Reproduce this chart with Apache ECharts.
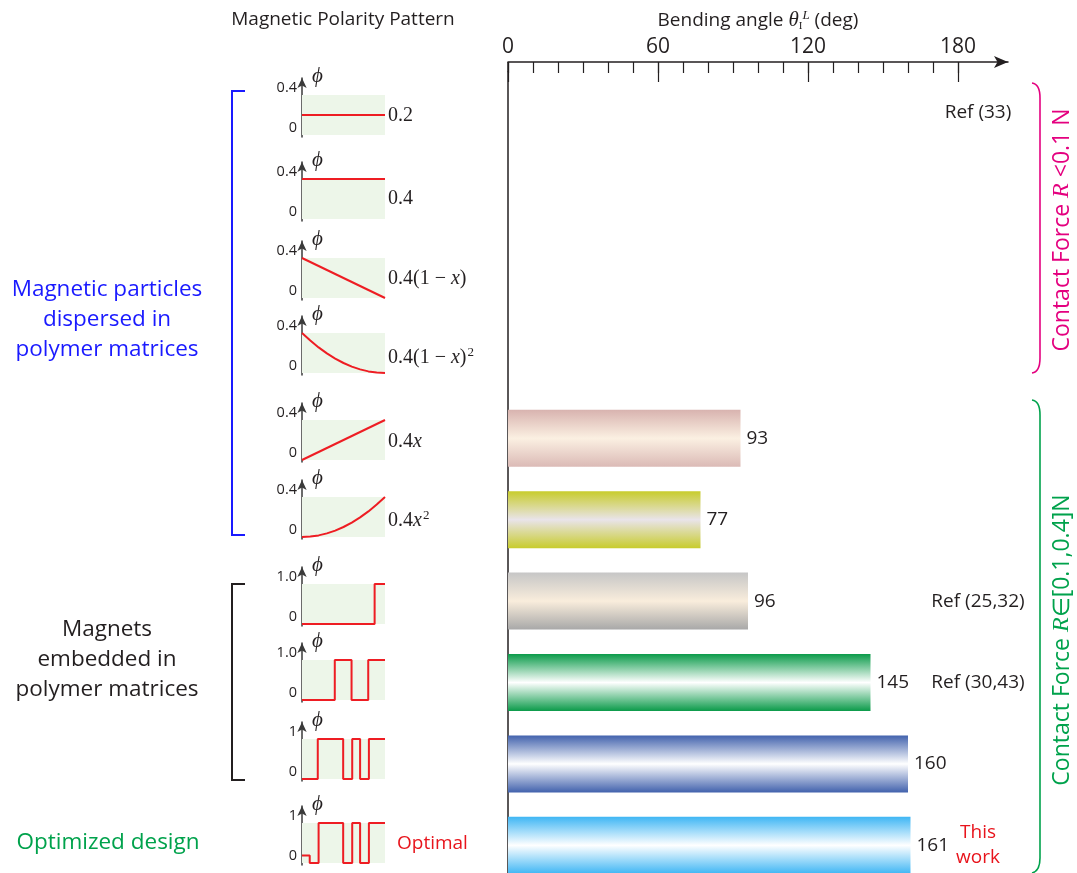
<!DOCTYPE html>
<html><head><meta charset="utf-8">
<script src="https://cdn.jsdelivr.net/npm/echarts@6/dist/echarts.min.js"></script>
<style>html,body{margin:0;padding:0;background:#fff}#c{width:1077px;height:873px}</style>
</head><body><div id="c"></div><script>
// ---------------- data ----------------
const categories = ['0.2', '0.4', '0.4(1-x)', '0.4(1-x)^2', '0.4x', '0.4x^2', 'Magnet A', 'Magnet B', 'Magnet C', 'Optimal'];
const bendingAngle = ['-', '-', '-', '-', 93, 77, 96, 145, 160, 161];
const refNotes = ['Ref (33)', '', '', '', '', '', 'Ref (25,32)', 'Ref (30,43)', '', 'This\nwork'];
const xTickLabels = [0, 60, 120, 180];
const xMinorTicks = [0, 10, 20, 30, 40, 50, 60, 70, 80, 90, 100, 110, 120, 130, 140, 150, 160, 170, 180];
const xAxisMax = 200;

// polarity patterns phi(x), x in [0,1]
const patUniform02 = [[0, 0.2], [1, 0.2]];
const patUniform04 = [[0, 0.4], [1, 0.4]];
const patLinearDown = [[0, 0.4], [1, 0]];
const patQuadDown = [[0, 0.4], [0.1, 0.324], [0.2, 0.256], [0.3, 0.196], [0.4, 0.144], [0.5, 0.1], [0.6, 0.064], [0.7, 0.036], [0.8, 0.016], [0.9, 0.004], [1, 0]];
const patLinearUp = [[0, 0], [1, 0.4]];
const patQuadUp = [[0, 0], [0.1, 0.004], [0.2, 0.016], [0.3, 0.036], [0.4, 0.064], [0.5, 0.1], [0.6, 0.144], [0.7, 0.196], [0.8, 0.256], [0.9, 0.324], [1, 0.4]];
const patMagnet1 = [[0, 0], [0.875, 0], [0.875, 1], [1, 1]];
const patMagnet2 = [[0, 0], [0.395, 0], [0.395, 1], [0.597, 1], [0.597, 0], [0.798, 0], [0.798, 1], [1, 1]];
const patMagnet3 = [[0, 0], [0.19, 0], [0.19, 1], [0.496, 1], [0.496, 0], [0.605, 0], [0.605, 1], [0.70, 1], [0.70, 0], [0.806, 0], [0.806, 1], [1, 1]];
const patOptimal = [[0, 0.19], [0.093, 0.19], [0.093, 0], [0.2, 0], [0.2, 1], [0.496, 1], [0.496, 0], [0.605, 0], [0.605, 1], [0.70, 1], [0.70, 0], [0.806, 0], [0.806, 1], [1, 1]];
const miniPatterns = [patUniform02, patUniform04, patLinearDown, patQuadDown, patLinearUp, patQuadUp, patMagnet1, patMagnet2, patMagnet3, patOptimal];
const miniMax = [0.4, 0.4, 0.4, 0.4, 0.4, 0.4, 1, 1, 1, 1];
const miniTopLabels = ['0.4', '0.4', '0.4', '0.4', '0.4', '0.4', '1.0', '1.0', '1', '1'];
const miniFormulas = ['0.2', '0.4', '0.4(1 − {i|x})', '0.4(1 − {i|x}){s|2}', '0.4{i|x}', '0.4{i|x}{s|2}', '', '', '', ''];

// ---------------- styles / layout ----------------
const SANS = '"Open Sans", "Noto Sans", sans-serif';
const SERIF = '"Liberation Serif", "DejaVu Serif", serif';
const DARK = '#231f20';
const RED = '#e8141c';
const barColors = [null, null, null, null,
  ['#d8b3af', '#fbf0e2', '#dbbab6'],
  ['#c8cc2c', '#e9e4ea', '#c8cc2c'],
  ['#c6c6c6', '#f9eddc', '#a8a8a8'],
  ['#0b9b4a', '#ffffff', '#0b9b4a'],
  ['#4262ad', '#ffffff', '#4262ad'],
  ['#3fb6f4', '#ffffff', '#3fb6f4']];
const G_LEFT = 508, G_TOP = 72, G_W = 500, G_H = 814, AX_OFF = 10;
const miniTops = [78, 162, 241, 316, 403, 480, 567, 643, 722, 806];
const miniFormulaY = [116, 199, 279, 358, 442, 521];
const MINI_LEFT = 302, MINI_W = 83, MINI_H = 59;

function grad(c) {
  return new echarts.graphic.LinearGradient(0, 0, 0, 1, [
    { offset: 0, color: c[0] }, { offset: 0.5, color: c[1] }, { offset: 1, color: c[2] }]);
}

const grids = [{ left: G_LEFT, top: G_TOP, width: G_W, height: G_H, outerBoundsMode: 'none', containLabel: false }];
const xAxes = [
  { gridIndex: 0, type: 'value', position: 'top', offset: AX_OFF, min: 0, max: xAxisMax,
    axisLine: { show: true, lineStyle: { color: DARK, width: 1.5 }, symbol: ['none', 'arrow'], symbolSize: [9, 14] },
    axisTick: { show: true, inside: true, length: 11, customValues: xMinorTicks, lineStyle: { color: DARK, width: 1.2 } },
    axisLabel: { show: false }, splitLine: { show: false } },
  { gridIndex: 0, type: 'value', position: 'top', offset: AX_OFF, min: 0, max: xAxisMax,
    axisLine: { show: false },
    axisTick: { show: true, inside: true, length: 20, customValues: xTickLabels, lineStyle: { color: DARK, width: 1.2 } },
    axisLabel: { show: true, customValues: xTickLabels, color: DARK, fontSize: 21, fontFamily: SANS, margin: 4 },
    splitLine: { show: false },
    name: '{n|Bending angle }{th|θ}{sub|I}{sup|L}{n| (deg)}', nameLocation: 'middle', nameGap: 29,
    nameTextStyle: { color: DARK, fontSize: 19, fontFamily: SANS,
      rich: { n: { fontFamily: SANS, fontSize: 19, color: DARK },
              th: { fontFamily: SERIF, fontStyle: 'italic', fontSize: 21, color: DARK },
              sub: { fontFamily: SERIF, fontSize: 11, color: DARK, verticalAlign: 'bottom', padding: [8, 0, 0, 0] },
              sup: { fontFamily: SERIF, fontStyle: 'italic', fontSize: 13, color: DARK, verticalAlign: 'top', padding: [0, 0, 10, 0] } } } }
];
const yAxes = [
  { gridIndex: 0, type: 'category', inverse: true, data: categories,
    axisLine: { show: true, lineStyle: { color: DARK, width: 1.5 } },
    axisTick: { show: false }, axisLabel: { show: false }, splitLine: { show: false } }
];

const series = [
  { type: 'bar', xAxisIndex: 0, yAxisIndex: 0, barWidth: 57,
    data: bendingAngle.map((v, i) => v === '-' ? '-' : { value: v, itemStyle: { color: grad(barColors[i]) } }),
    label: { show: true, position: 'right', distance: 6, color: DARK, fontSize: 19, fontFamily: SANS } },
  { type: 'scatter', xAxisIndex: 0, yAxisIndex: 0, symbolSize: 0, silent: true, itemStyle: { opacity: 1 },
    data: refNotes.map((t, i) => t ? { value: [188, i], name: t,
      label: t.indexOf('This') === 0 ? { color: RED, lineHeight: 25 } : {} } : null).filter(Boolean),
    label: { show: true, position: 'inside', formatter: p => p.name, color: DARK, fontSize: 19, fontFamily: SANS } }
];

miniPatterns.forEach((pat, k) => {
  const gi = k + 1;          // grid / yAxis index
  const xi = k + 2;          // xAxis index (grid 0 owns two x axes)
  const m = miniMax[k];
  const pxPer = m / 40;      // value per pixel
  grids.push({ left: MINI_LEFT, top: miniTops[k], width: MINI_W, height: MINI_H, outerBoundsMode: 'none', containLabel: false });
  xAxes.push({ gridIndex: gi, type: 'value', min: 0, max: 1, show: false });
  yAxes.push({ gridIndex: gi, type: 'value', min: -2 * pxPer, max: m + 17 * pxPer,
    axisLine: { show: true, lineStyle: { color: '#3a3a3a', width: 1.5 }, symbol: ['none', 'arrow'], symbolSize: [7, 10] },
    axisTick: { show: true, inside: true, length: 6, customValues: [m], lineStyle: { color: '#999', width: 1 } },
    axisLabel: { show: true, customValues: [0, m], formatter: v => v === 0 ? '0' : miniTopLabels[k],
      color: DARK, fontSize: 14.5, fontFamily: SANS, margin: 5, verticalAlign: 'bottom' },
    splitLine: { show: false },
    name: 'ϕ', nameLocation: 'end', nameGap: 2,
    nameTextStyle: { fontFamily: SERIF, fontStyle: 'italic', fontSize: 21, color: DARK, align: 'left', verticalAlign: 'middle', padding: [0, 0, 0, 10] } });
  series.push({ type: 'line', xAxisIndex: xi, yAxisIndex: gi, data: pat, showSymbol: false, silent: true,
    lineStyle: { color: '#ee1d23', width: 2 },
    markArea: { silent: true, itemStyle: { color: '#edf6e9' }, data: [[{ xAxis: 0, yAxis: 0 }, { xAxis: 1, yAxis: m }]] } });
});

const graphic = [
  { type: 'text', x: 343, y: 20, style: { text: 'Magnetic Polarity Pattern', fill: DARK, fontSize: 19, fontFamily: SANS, textAlign: 'center', textVerticalAlign: 'middle' } },
  { type: 'line', shape: { x1: G_LEFT, y1: G_TOP - AX_OFF, x2: G_LEFT, y2: G_TOP }, style: { stroke: DARK, lineWidth: 1.5 } },
  { type: 'polyline', shape: { points: [[245, 91], [232, 91], [232, 535], [245, 535]] }, style: { stroke: '#1a1aff', lineWidth: 2, fill: null } },
  { type: 'polyline', shape: { points: [[245, 584], [232, 584], [232, 780], [245, 780]] }, style: { stroke: DARK, lineWidth: 2, fill: null } },
  { type: 'text', x: 107, y: 320, style: { text: 'Magnetic particles\ndispersed in\npolymer matrices', fill: '#1a1aff', fontSize: 22.5, lineHeight: 30, fontFamily: SANS, textAlign: 'center', textVerticalAlign: 'middle' } },
  { type: 'text', x: 107, y: 660, style: { text: 'Magnets\nembedded in\npolymer matrices', fill: DARK, fontSize: 22.5, lineHeight: 30, fontFamily: SANS, textAlign: 'center', textVerticalAlign: 'middle' } },
  { type: 'text', x: 108, y: 843, style: { text: 'Optimized design', fill: '#00a24c', fontSize: 22.5, fontFamily: SANS, textAlign: 'center', textVerticalAlign: 'middle' } },
  { type: 'text', x: 397, y: 844, style: { text: 'Optimal', fill: RED, fontSize: 19, fontFamily: SANS, textAlign: 'left', textVerticalAlign: 'middle' } },
  { type: 'bezierCurve', shape: { x1: 1032, y1: 83, cpx1: 1040, cpy1: 84, x2: 1040, y2: 98 }, style: { stroke: '#e4007f', lineWidth: 1.6, fill: null } },
  { type: 'line', shape: { x1: 1040, y1: 98, x2: 1040, y2: 358 }, style: { stroke: '#e4007f', lineWidth: 1.6 } },
  { type: 'bezierCurve', shape: { x1: 1040, y1: 358, cpx1: 1040, cpy1: 372, x2: 1032, y2: 373 }, style: { stroke: '#e4007f', lineWidth: 1.6, fill: null } },
  { type: 'bezierCurve', shape: { x1: 1032, y1: 400, cpx1: 1040, cpy1: 401, x2: 1040, y2: 415 }, style: { stroke: '#00a24c', lineWidth: 1.6, fill: null } },
  { type: 'line', shape: { x1: 1040, y1: 415, x2: 1040, y2: 858 }, style: { stroke: '#00a24c', lineWidth: 1.6 } },
  { type: 'bezierCurve', shape: { x1: 1040, y1: 858, cpx1: 1040, cpy1: 871, x2: 1032, y2: 873 }, style: { stroke: '#00a24c', lineWidth: 1.6, fill: null } },
  { type: 'text', x: 1062, y: 230, rotation: Math.PI / 2, style: { text: 'Contact Force {r|R} <0.1 N', fill: '#e4007f', fontSize: 23, fontFamily: SANS, textAlign: 'center', textVerticalAlign: 'middle',
      rich: { r: { fontFamily: SERIF, fontStyle: 'italic', fontSize: 24, fill: '#e4007f' } } } },
  { type: 'text', x: 1062, y: 640, rotation: Math.PI / 2, style: { text: 'Contact Force {r|R}∈[0.1,0.4]N', fill: '#00a24c', fontSize: 23, fontFamily: SANS, textAlign: 'center', textVerticalAlign: 'middle',
      rich: { r: { fontFamily: SERIF, fontStyle: 'italic', fontSize: 24, fill: '#00a24c' } } } }
];
miniFormulas.forEach((f, k) => {
  if (!f) return;
  graphic.push({ type: 'text', x: 388, y: miniFormulaY[k], style: { text: f, fill: DARK, fontSize: 20, fontFamily: SERIF, textAlign: 'left', textVerticalAlign: 'middle',
    rich: { i: { fontFamily: SERIF, fontStyle: 'italic', fontSize: 20, fill: DARK },
            s: { fontFamily: SERIF, fontSize: 13, fill: DARK, verticalAlign: 'top', padding: [0, 0, 10, 1] } } } });
});

const chart = echarts.init(document.getElementById('c'), null, { renderer: 'canvas' });
chart.setOption({
  backgroundColor: '#ffffff',
  animation: false,
  grid: grids, xAxis: xAxes, yAxis: yAxes, series: series, graphic: graphic
});
</script></body></html>
